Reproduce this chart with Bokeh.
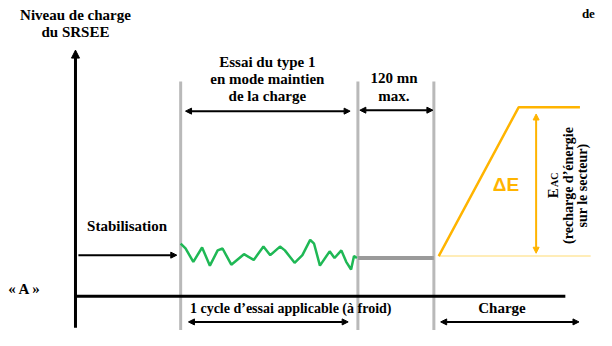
import numpy as np
from bokeh.plotting import figure
from bokeh.models import Range1d, Arrow, NormalHead, ColumnDataSource
from bokeh.core.properties import value
from bokeh.embed import file_html
from bokeh.resources import INLINE

# ---- data (diagram coordinates: x to the right, y downward) ----
green_x = [185, 190, 198, 207, 215, 223, 228, 237, 250, 260, 270, 277, 287, 292,
           302, 310, 318, 322, 328, 338, 343, 350, 355, 360, 363, 366]
green_y = [255, 260, 274, 259, 278, 262, 260, 277, 266, 272, 258, 267, 258, 262,
           275, 267, 251, 255, 278, 263, 270, 262, 274, 282, 268, 270]

grey_x = [185, 367, 445]
grey_top = [85, 85, 85]
grey_bottom = [346, 346, 346]

hold_x = [367, 445]
hold_y = [270, 270]

ramp_x = [450, 532, 595]
ramp_y = [268, 112, 112]

base_x = [450, 606]
base_y = [268, 268]

axis_x = [77, 580]
axis_y = [310, 310]

# arrows: (x0, y0, x1, y1, both_heads)
arrow_x0 = [190, 369, 80, 193, 452]
arrow_y0 = [116, 115, 267, 337, 337]
arrow_x1 = [359, 444, 181, 357, 594]
arrow_y1 = [116, 115, 267, 337, 337]
arrow_both = [True, True, False, True, True]

label_text = ["Niveau de charge", "du SRSEE", "Essai du type 1", "en mode maintien",
              "de la charge", "120 mn", "max.", "Stabilisation", "« A »",
              "1 cycle d’essai applicable (à froid)", "Charge"]
label_x = [77, 77, 274, 274, 274, 404, 404, 130, 25, 298, 515]
label_y = [15, 33, 64, 82, 100, 81, 100, 236, 303, 323, 322]
label_size = ["15px", "15px", "15px", "15px", "15px", "15px", "15px", "15px", "15px", "14px", "15px"]

rot_text = ["(recharge d’énergie", "sur le secteur)"]
rot_x = [583, 598]
rot_y = [194, 194]

orange = "#ffb400"

p = figure(width=596, height=330, x_range=Range1d(0, 612), y_range=Range1d(346, 0),
           output_backend="svg", toolbar_location=None, x_axis_type=None, y_axis_type=None,
           min_border=0)
p.grid.visible = False
p.outline_line_color = None
p.background_fill_color = "white"

# grey vertical markers
p.segment(x0=grey_x, y0=grey_top, x1=grey_x, y1=grey_bottom, line_color="#b9b9b9", line_width=3)

# main horizontal line
p.line(axis_x, axis_y, line_color="black", line_width=3)
# vertical axis with arrow head
p.add_layout(Arrow(end=NormalHead(size=8, fill_color="black", line_color="black"),
                   x_start=77, y_start=343, x_end=77, y_end=52,
                   line_color="black", line_width=3))

# signals
p.line(green_x, green_y, line_color="#1fb855", line_width=2.5)
p.line(hold_x, hold_y, line_color="#9a9a9a", line_width=4)
p.line(base_x, base_y, line_color="#ffe7a0", line_width=1.5)
p.line(ramp_x, ramp_y, line_color=orange, line_width=2.5)

# orange double arrow
p.add_layout(Arrow(start=NormalHead(size=6, fill_color=orange, line_color=orange),
                   end=NormalHead(size=6, fill_color=orange, line_color=orange),
                   x_start=550, y_start=265, x_end=550, y_end=119,
                   line_color=orange, line_width=2))

# black dimension arrows
for x0, y0, x1, y1, both in zip(arrow_x0, arrow_y0, arrow_x1, arrow_y1, arrow_both):
    start = NormalHead(size=6, fill_color="black", line_color="black") if both else None
    p.add_layout(Arrow(start=start,
                       end=NormalHead(size=6, fill_color="black", line_color="black"),
                       x_start=x0, y_start=y0, x_end=x1, y_end=y1,
                       line_color="black", line_width=2))

src = ColumnDataSource(dict(x=label_x, y=label_y, t=label_text, s=label_size))
p.text(x="x", y="y", text="t", source=src, text_font=value("Liberation Serif"),
       text_font_style="bold", text_font_size="s", text_align="center",
       text_baseline="middle", text_color="black")

# rotated texts
rsrc = ColumnDataSource(dict(x=rot_x, y=rot_y, t=rot_text))
p.text(x="x", y="y", text="t", source=rsrc, angle=np.pi / 2,
       text_font=value("Liberation Serif"), text_font_style="bold",
       text_font_size="14px", text_align="center", text_baseline="middle",
       text_color="black")
p.text(x=[567], y=[202], text=["E"], angle=np.pi / 2, text_font=value("Liberation Serif"),
       text_font_style="bold", text_font_size="15px", text_align="center",
       text_baseline="middle", text_color="black")
p.text(x=[569], y=[188], text=["AC"], angle=np.pi / 2, text_font=value("Liberation Serif"),
       text_font_style="bold", text_font_size="10px", text_align="center",
       text_baseline="middle", text_color="black")

# ΔE
p.text(x=[519], y=[193], text=["ΔE"], text_font=value("Liberation Sans"),
       text_font_style="bold", text_font_size="19px", text_align="center",
       text_baseline="middle", text_color=orange)

# cropped text at top right
p.text(x=[597], y=[14], text=["de"], text_font=value("Liberation Serif"),
       text_font_style="bold", text_font_size="13px", text_align="left",
       text_baseline="middle", text_color="black")

open("out.html", "w").write(file_html(p, INLINE))
